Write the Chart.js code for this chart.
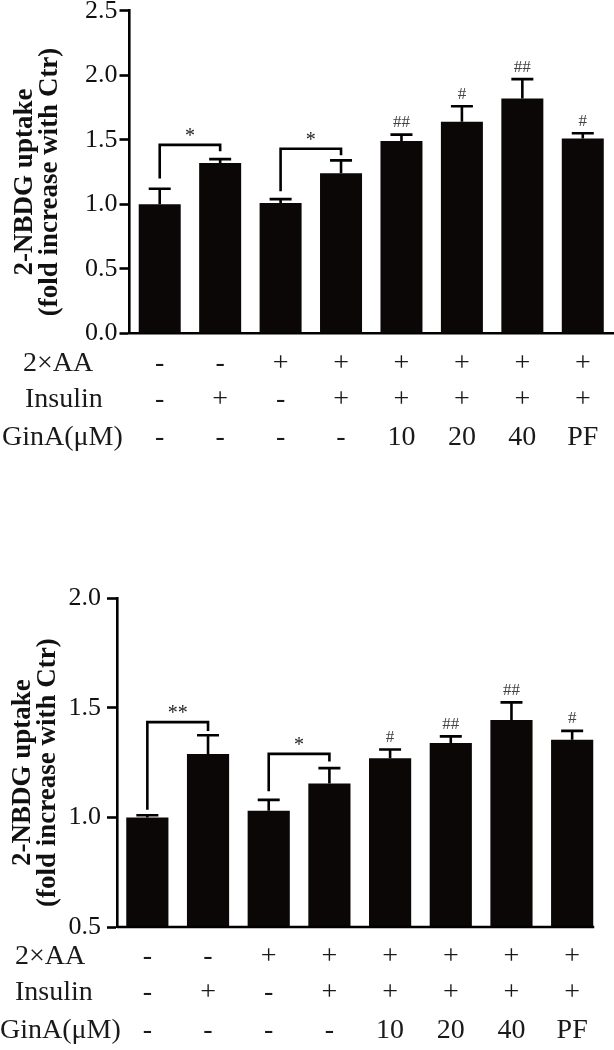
<!DOCTYPE html>
<html lang="en">
<head>
<meta charset="UTF-8">
<meta name="viewport" content="width=device-width, initial-scale=1.0">
<title>2-NBDG uptake</title>
<script src="https://cdn.jsdelivr.net/npm/chart.js"></script>
<style>
  body { margin: 0; background: #fff; width: 614px; height: 1050px; position: relative; overflow: hidden; }
  .box { position: absolute; left: 0; width: 614px; }
  #topBox { top: 0; height: 455px; }
  #botBox { top: 560px; height: 490px; }
</style>
</head>
<body>
<div class="box" id="topBox"><canvas id="topChart"></canvas></div>
<div class="box" id="botBox"><canvas id="botChart"></canvas></div>
<script>
// groups (one bar each)
const groups = ['Ctr', 'Ins', 'AA', 'AA+Ins', 'GinA 10', 'GinA 20', 'GinA 40', 'PF'];

// treatment table under the bars
const rowNames = ['2×AA', 'Insulin', 'GinA(μM)'];
const aaRow = ['-', '-', '+', '+', '+', '+', '+', '+'];
const insulinRow = ['-', '+', '-', '+', '+', '+', '+', '+'];
const ginaRow = ['-', '-', '-', '-', '10', '20', '40', 'PF'];

// upper panel
const topMeans = [1.00, 1.32, 1.01, 1.24, 1.49, 1.64, 1.82, 1.51];
const topErrors = [0.12, 0.03, 0.03, 0.10, 0.05, 0.12, 0.15, 0.04];
const topMarks = ['', '', '', '', '##', '#', '##', '#'];
// [from bar, to bar, left leg end, top, right leg end, label]
const topBrackets = [[0, 1, 1.20, 1.46, 1.41, '*'], [2, 3, 1.10, 1.43, 1.38, '*']];
const topTicks = [0, 0.5, 1.0, 1.5, 2.0, 2.5];

// lower panel
const botMeans = [1.00, 1.29, 1.03, 1.155, 1.27, 1.34, 1.445, 1.355];
const botErrors = [0.01, 0.085, 0.05, 0.07, 0.04, 0.03, 0.08, 0.04];
const botMarks = ['', '', '', '', '#', '##', '##', '#'];
const botBrackets = [[0, 1, 1.035, 1.435, 1.395, '**'], [2, 3, 1.12, 1.29, 1.255, '*']];
const botTicks = [0.5, 1.0, 1.5, 2.0];

const yTitle = ['2-NBDG uptake', '(fold increase with Ctr)'];
const SERIF = "'Liberation Serif', 'Times New Roman', serif";

Chart.defaults.font.family = SERIF;

const annotPlugin = {
  id: 'annot',
  afterDatasetsDraw(chart, args, opts) {
    const ctx = chart.ctx;
    const y = chart.scales.y;
    const area = chart.chartArea;
    const bars = chart.getDatasetMeta(0).data;
    ctx.save();
    ctx.strokeStyle = '#000';
    ctx.lineWidth = 2.6;
    ctx.lineCap = 'butt';
    // x baseline that stops at the last bar
    if (opts.shortBase) {
      const last = bars[bars.length - 1];
      ctx.beginPath();
      ctx.moveTo(area.left, area.bottom);
      ctx.lineTo(last.x + last.width / 2 + 1, area.bottom);
      ctx.stroke();
    }
    // error bars (upper half only) + # marks
    opts.means.forEach((m, i) => {
      const x = bars[i].x;
      const y0 = y.getPixelForValue(m);
      const y1 = y.getPixelForValue(m + opts.errors[i]);
      ctx.beginPath();
      ctx.moveTo(x, y0);
      ctx.lineTo(x, y1);
      ctx.moveTo(x - 11, y1);
      ctx.lineTo(x + 11, y1);
      ctx.stroke();
      if (opts.marks[i]) {
        ctx.fillStyle = '#444';
        ctx.font = '17px ' + SERIF;
        ctx.textAlign = 'center';
        ctx.textBaseline = 'middle';
        ctx.fillText(opts.marks[i], x, y1 - 12);
      }
    });
    // significance brackets
    opts.brackets.forEach(b => {
      const xa = bars[b[0]].x, xb = bars[b[1]].x;
      const yl = y.getPixelForValue(b[2]);
      const yt = y.getPixelForValue(b[3]);
      const yr = y.getPixelForValue(b[4]);
      ctx.beginPath();
      ctx.moveTo(xa, yl);
      ctx.lineTo(xa, yt);
      ctx.lineTo(xb, yt);
      ctx.lineTo(xb, yr);
      ctx.stroke();
      ctx.fillStyle = '#222';
      ctx.font = '20px ' + SERIF;
      ctx.textAlign = 'center';
      ctx.textBaseline = 'middle';
      ctx.fillText(b[5], (xa + xb) / 2, yt - 8);
    });
    ctx.restore();
  },
  afterDraw(chart, args, opts) {
    const ctx = chart.ctx;
    const area = chart.chartArea;
    const bars = chart.getDatasetMeta(0).data;
    ctx.save();
    // y axis title, two rotated bold lines
    ctx.fillStyle = '#111';
    ctx.font = 'bold 27px ' + SERIF;
    ctx.textAlign = 'center';
    ctx.textBaseline = 'middle';
    const cy = (area.top + area.bottom) / 2 + 10;
    yTitle.forEach((t, k) => {
      ctx.save();
      ctx.translate(opts.titleX[k], cy);
      ctx.rotate(-Math.PI / 2);
      ctx.fillText(t, 0, 0);
      ctx.restore();
    });
    // treatment table
    const rows = [aaRow, insulinRow, ginaRow];
    ctx.font = '28px ' + SERIF;
    ctx.fillStyle = '#1a1a1a';
    rows.forEach((row, r) => {
      const ry = area.bottom + opts.rowOffsets[r];
      ctx.textAlign = 'left';
      ctx.fillText(rowNames[r], opts.rowLabelX[r], ry);
      ctx.textAlign = 'center';
      row.forEach((v, i) => ctx.fillText(v, bars[i].x, ry));
    });
    ctx.restore();
  }
};

function makeChart(id, means, errors, marks, brackets, ticks, layout) {
  return new Chart(document.getElementById(id), {
    type: 'bar',
    data: {
      labels: groups,
      datasets: [{
        data: means,
        backgroundColor: '#0b0707',
        borderWidth: 0,
        categoryPercentage: 1.0,
        barPercentage: 0.695
      }]
    },
    options: {
      responsive: true,
      maintainAspectRatio: false,
      animation: false,
      events: [],
      layout: { padding: layout.padding },
      plugins: {
        legend: { display: false },
        tooltip: { enabled: false },
        annot: {
          means: means,
          errors: errors,
          marks: marks,
          brackets: brackets,
          titleX: layout.titleX,
          rowOffsets: [30, 66, 104],
          rowLabelX: layout.rowLabelX,
          shortBase: layout.shortBase
        }
      },
      scales: {
        x: {
          offset: true,
          grid: { display: false },
          ticks: { display: false },
          border: { display: !layout.shortBase, color: '#000', width: 2.6 },
          afterFit: s => { s.height = layout.xHeight; s.paddingLeft = 0; s.paddingRight = 0; }
        },
        y: {
          min: ticks[0],
          max: ticks[ticks.length - 1],
          afterBuildTicks: s => { s.ticks = ticks.map(v => ({ value: v })); },
          ticks: {
            callback: v => Number(v).toFixed(1),
            font: { family: SERIF, size: 26 },
            color: '#111',
            padding: layout.tickPad
          },
          grid: { drawOnChartArea: false, drawTicks: true, tickLength: 10, tickWidth: 2.6, tickColor: '#000' },
          border: { display: true, color: '#000', width: 2.6 },
          afterFit: s => { s.width = layout.yWidth; s.paddingTop = 0; s.paddingBottom = 0; }
        }
      }
    },
    plugins: [annotPlugin]
  });
}

makeChart('topChart', topMeans, topErrors, topMarks, topBrackets, topTicks, {
  padding: { top: 10.7, right: 1, left: 0, bottom: 0 },
  yWidth: 129.5,
  xHeight: 455 - 333.3,
  tickPad: 2,
  titleX: [25, 50],
  rowLabelX: [23, 25, 2],
  shortBase: false
});

makeChart('botChart', botMeans, botErrors, botMarks, botBrackets, botTicks, {
  padding: { top: 38.3, right: 11.5, left: 0, bottom: 0 },
  yWidth: 117,
  xHeight: 490 - 367,
  tickPad: 6,
  titleX: [23, 48],
  rowLabelX: [15, 15, 0],
  shortBase: true
});
</script>
</body>
</html>
